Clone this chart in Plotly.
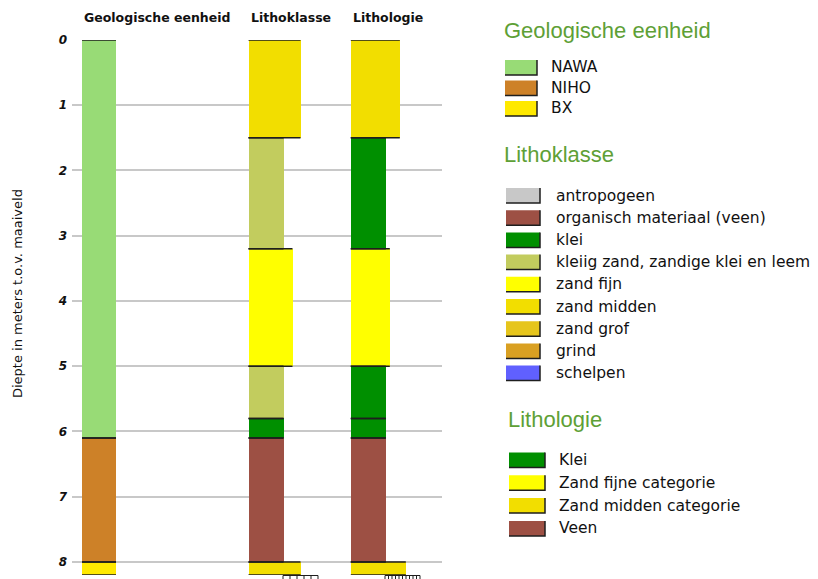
import plotly.graph_objects as go

# ---------------- data ----------------
geo_top = [0.0, 6.1, 8.0]
geo_bottom = [6.1, 8.0, 8.2]
geo_unit = ["NAWA", "NIHO", "BX"]

lk_top = [0.0, 1.5, 3.2, 5.0, 5.8, 6.1, 8.0]
lk_bottom = [1.5, 3.2, 5.0, 5.8, 6.1, 8.0, 8.2]
lk_class = ["zand midden", "kleiig zand, zandige klei en leem", "zand fijn",
            "kleiig zand, zandige klei en leem", "klei",
            "organisch materiaal (veen)", "zand midden"]

lo_top = [0.0, 1.5, 3.2, 5.0, 5.8, 6.1, 8.0]
lo_bottom = [1.5, 3.2, 5.0, 5.8, 6.1, 8.0, 8.2]
lo_class = ["Zand midden categorie", "Klei", "Zand fijne categorie", "Klei",
            "Klei", "Veen", "Zand midden categorie"]

depth_ticks = [0, 1, 2, 3, 4, 5, 6, 7, 8]
column_titles = ["Geologische eenheid", "Lithoklasse", "Lithologie"]

geo_legend = ["NAWA", "NIHO", "BX"]
lk_legend = ["antropogeen", "organisch materiaal (veen)", "klei",
             "kleiig zand, zandige klei en leem", "zand fijn", "zand midden",
             "zand grof", "grind", "schelpen"]
lo_legend = ["Klei", "Zand fijne categorie", "Zand midden categorie", "Veen"]

# ---------------- styles ----------------
geo_colors = {"NAWA": "#98DB76", "NIHO": "#CD8128", "BX": "#FFE900"}
lk_colors = {"antropogeen": "#C8C8C8", "organisch materiaal (veen)": "#9D5044",
             "klei": "#008F00", "kleiig zand, zandige klei en leem": "#C2CC5E",
             "zand fijn": "#FFFF00", "zand midden": "#F2DE00",
             "zand grof": "#E6C51C", "grind": "#D9A022", "schelpen": "#6060FF"}
lo_colors = {"Klei": "#008F00", "Zand fijne categorie": "#FFFF00",
             "Zand midden categorie": "#F2DE00", "Veen": "#9D5044"}

geo_width = [34, 34, 34]
lk_width = [52, 35, 44, 35, 35, 35, 52]
lo_width = [49, 35, 39, 35, 35, 35, 55]
col_left = [10, 176.5, 278.8]

W, H = 818, 579
L, R, T, B = 72, 442, 40, 575


def px(x):
    return (x - L) / (R - L)


def py(y):
    return (B - y) / (B - T)


FONT = "DejaVu Sans"
EDGE = "#1e1e1e"

fig = go.Figure()

columns = [
    (col_left[0], geo_top, geo_bottom, geo_unit, geo_width, geo_colors),
    (col_left[1], lk_top, lk_bottom, lk_class, lk_width, lk_colors),
    (col_left[2], lo_top, lo_bottom, lo_class, lo_width, lo_colors),
]

for left, tops, bots, cls, wids, cmap in columns:
    fig.add_trace(go.Bar(
        x=[left + w / 2 for w in wids],
        y=[b - t for t, b in zip(tops, bots)],
        base=tops,
        width=wids,
        marker=dict(color=[cmap[c] for c in cls], line=dict(width=0)),
        text=cls, hoverinfo="text", textposition="none",
        showlegend=False,
    ))
    xs, ys = [], []
    for t, b, w in zip(tops, bots, wids):
        xs += [left, left + w, None, left, left + w, None]
        ys += [t, t, None, b, b, None]
    fig.add_trace(go.Scatter(x=xs, y=ys, mode="lines",
                             line=dict(color=EDGE, width=1.5),
                             hoverinfo="skip", showlegend=False,
                             cliponaxis=False))

annotations = []
shapes = []

# column headers
for left, title in zip(col_left, column_titles):
    annotations.append(dict(x=left, xref="x", y=py(18), yref="paper",
                            text="<b>" + title + "</b>", showarrow=False,
                            xanchor="left", yanchor="middle",
                            font=dict(family=FONT, size=12.5, color="#111")))

# y-axis title
annotations.append(dict(x=px(17), xref="paper", y=py(294), yref="paper",
                        text="Diepte in meters t.o.v. maaiveld", textangle=-90,
                        showarrow=False, xanchor="center", yanchor="middle",
                        font=dict(family=FONT, size=13, color="#111")))

# grain size scale ticks at bottom
for x0, x1, n in [(283, 318, 6), (385, 420, 11)]:
    path = f"M {px(x0)},{py(575.5)} L {px(x1)},{py(575.5)}"
    for i in range(n):
        xx = x0 + (x1 - x0) * i / (n - 1)
        path += f" M {px(xx)},{py(575.5)} L {px(xx)},{py(580)}"
    shapes.append(dict(type="path", path=path, xref="paper", yref="paper",
                       line=dict(color=EDGE, width=1)))

# legends
GREEN = "#5EA036"


def legend_block(title, tx, ty, items, cmap, sx, sw, lx, y0, dy):
    annotations.append(dict(x=px(tx), xref="paper", y=py(ty), yref="paper",
                            text=title, showarrow=False, xanchor="left",
                            yanchor="middle",
                            font=dict(family="Liberation Sans", size=22,
                                      color=GREEN)))
    for i, name in enumerate(items):
        yc = y0 + i * dy
        ya, yb = yc - 7.5, yc + 7.5
        shapes.append(dict(type="rect", xref="paper", yref="paper",
                           x0=px(sx), x1=px(sx + sw), y0=py(yb), y1=py(ya),
                           fillcolor=cmap[name], line=dict(width=0)))
        shapes.append(dict(type="path", xref="paper", yref="paper",
                           path=f"M {px(sx + sw)},{py(ya)} L {px(sx + sw)},{py(yb)} L {px(sx)},{py(yb)}",
                           line=dict(color=EDGE, width=1.5)))
        annotations.append(dict(x=px(lx), xref="paper", y=py(yc), yref="paper",
                                text=name, showarrow=False, xanchor="left",
                                yanchor="middle",
                                font=dict(family=FONT, size=15.5, color="#111")))


legend_block("Geologische eenheid", 502, 30, geo_legend, geo_colors,
             505, 32, 549, 67.5, 20.5)
legend_block("Lithoklasse", 502, 154, lk_legend, lk_colors,
             506, 34, 554, 195.5, 22.2)
legend_block("Lithologie", 506, 419, lo_legend, lo_colors,
             509, 36, 557, 460, 22.8)

fig.update_layout(
    width=W, height=H,
    margin=dict(l=L, r=W - R, t=T, b=H - B, pad=0),
    paper_bgcolor="white", plot_bgcolor="white",
    barmode="overlay", bargap=0,
    xaxis=dict(range=[0, R - L], visible=False, fixedrange=True),
    yaxis=dict(range=[8.2, 0], tickvals=depth_ticks, showgrid=True,
               gridcolor="#C8C8C8", gridwidth=1.5, zeroline=False,
               showline=False, ticks="", ticklabelstandoff=4,
               tickfont=dict(family=FONT, size=12, color="#111",
                             weight="bold", style="italic")),
    annotations=annotations, shapes=shapes,
    font=dict(family=FONT),
)

fig.write_html("out.html", config={"displayModeBar": False},
               post_script="document.body.style.margin='0';document.body.style.padding='0';")
